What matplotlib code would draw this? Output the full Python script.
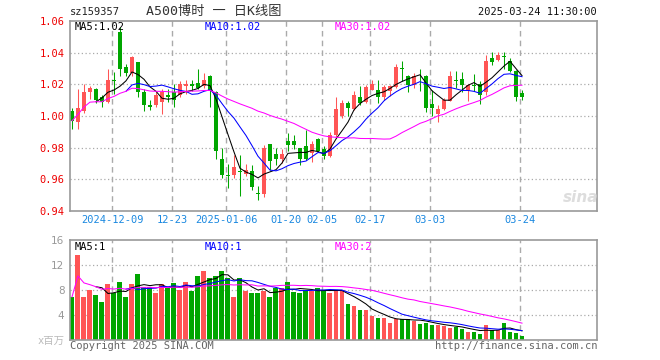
import numpy as np
import pandas as pd
import matplotlib
matplotlib.use('Agg')
import matplotlib.pyplot as plt

plt.rcParams['font.family'] = ['DejaVu Sans Mono', 'Noto Sans CJK SC']

# Daily OHLC (2024-11-28 .. 2025-03-24).
opens = [1.003, 0.996, 1.003, 1.015, 1.017, 1.012, 1.009, 1.023, 1.053, 1.031,
         1.027, 1.034, 1.015, 1.007, 1.007, 1.009, 1.013, 1.015, 1.013, 1.019,
         1.020, 1.021, 1.019, 1.025, 1.015, 0.973, 0.9625, 0.9625, 0.9655, 0.9635,
         0.9655, 0.9512, 0.9505, 0.9825, 0.9757, 0.973, 0.9845, 0.9845, 0.9795, 0.9813,
         0.9766, 0.9857, 0.9794, 0.9745, 0.9882, 0.9998, 1.0084, 1.0046, 1.0118, 1.0088,
         1.0166, 1.0166, 1.0118, 1.0156, 1.0181, 1.030, 1.025, 1.0194, 1.0255, 1.0255,
         1.0078, 1.0015, 1.0046, 1.0097, 1.0225, 1.0236, 1.016, 1.0195, 1.0202, 1.0152,
         1.0366, 1.0356, 1.0378, 1.0349, 1.0282, 1.0145]
highs = [1.005, 1.017, 1.020, 1.019, 1.018, 1.013, 1.030, 1.028, 1.056, 1.033,
         1.038, 1.034, 1.017, 1.010, 1.015, 1.017, 1.017, 1.020, 1.022, 1.023,
         1.023, 1.030, 1.027, 1.026, 1.016, 0.980, 0.9695, 0.9755, 0.9756, 0.970,
         0.969, 0.956, 0.9815, 0.9826, 0.980, 0.979, 0.9893, 0.988, 0.980, 0.9914,
         0.984, 0.9861, 0.981, 0.9897, 1.0118, 1.0103, 1.0097, 1.0156, 1.0187, 1.0198,
         1.023, 1.023, 1.0198, 1.0194, 1.0328, 1.035, 1.0257, 1.027, 1.030, 1.026,
         1.0166, 1.0067, 1.0114, 1.0286, 1.0286, 1.0278, 1.0202, 1.0265, 1.0223, 1.0383,
         1.0404, 1.0404, 1.0404, 1.0366, 1.0293, 1.0166]
lows = [0.992, 0.992, 1.002, 1.011, 1.008, 1.006, 1.008, 1.014, 1.025, 1.025,
        1.025, 1.012, 1.003, 1.004, 1.006, 1.001, 1.009, 1.006, 1.012, 1.014,
        1.016, 1.017, 1.018, 1.006, 0.973, 0.961, 0.9545, 0.961, 0.9495, 0.962,
        0.9535, 0.947, 0.9487, 0.966, 0.969, 0.9705, 0.978, 0.979, 0.969, 0.972,
        0.9707, 0.977, 0.973, 0.974, 0.987, 0.999, 1.000, 1.004, 1.0067, 1.008,
        1.0165, 1.0082, 1.0103, 1.0124, 1.0175, 1.022, 1.0152, 1.018, 1.016, 1.0025,
        1.0002, 0.9962, 1.004, 1.0095, 1.0177, 1.0152, 1.0093, 1.016, 1.0076, 1.0135,
        1.0324, 1.035, 1.030, 1.0278, 1.0093, 1.010]
closes = [0.997, 1.005, 1.015, 1.018, 1.010, 1.009, 1.023, 1.022, 1.030, 1.027,
          1.037, 1.015, 1.007, 1.006, 1.013, 1.015, 1.012, 1.010, 1.020, 1.020,
          1.019, 1.018, 1.023, 1.016, 0.978, 0.9625, 0.962, 0.968, 0.9645, 0.966,
          0.955, 0.951, 0.980, 0.9715, 0.973, 0.976, 0.9815, 0.9815, 0.973, 0.973,
          0.9823, 0.9777, 0.9745, 0.9882, 1.0046, 1.0084, 1.005, 1.0131, 1.0082, 1.0181,
          1.0202, 1.0118, 1.0181, 1.0187, 1.0307, 1.0297, 1.0198, 1.025, 1.025, 1.005,
          1.005, 1.0046, 1.0103, 1.025, 1.022, 1.0198, 1.0198, 1.019, 1.0131, 1.0349,
          1.0339, 1.0383, 1.0375, 1.0282, 1.0118, 1.0118]
# Volume in millions.
volumes = [6.9, 13.6, 6.9, 8.0, 7.2, 6.1, 9.0, 7.5, 9.3, 6.9,
           9.0, 10.6, 8.5, 8.5, 7.6, 9.0, 8.3, 9.1, 8.0, 9.3,
           7.9, 10.2, 11.0, 9.9, 10.2, 11.0, 10.0, 6.9, 10.0, 7.9,
           7.6, 7.6, 7.9, 6.9, 8.3, 8.3, 9.3, 7.7, 7.6, 7.9,
           7.9, 8.3, 7.9, 7.6, 7.9, 7.9, 5.8, 5.5, 4.8, 4.8,
           3.9, 3.5, 3.5, 2.7, 3.4, 3.4, 3.4, 3.1, 2.6, 2.7,
           2.4, 2.4, 2.25, 1.9, 2.1, 1.8, 1.35, 1.3, 1.0, 2.4,
           1.6, 1.6, 2.7, 1.3, 1.1, 0.65]

tick_idx = [7, 17, 26, 36, 42, 50, 60, 75]
tick_labels = ['2024-12-09', '12-23', '2025-01-06', '01-20', '02-05', '02-17', '03-03', '03-24']
price_ticks = [0.94, 0.96, 0.98, 1.00, 1.02, 1.04, 1.06]
vol_ticks = [4, 8, 12, 16]

up_color = '#FF5555'
down_color = '#00A600'
grid_color = '#AAAAAA'
frame_color = '#999999'

x = np.arange(len(closes))
close_s = pd.Series(closes)
vol_s = pd.Series(volumes)
colors = [up_color if c >= o else down_color for o, c in zip(opens, closes)]

fig = plt.figure(figsize=(6.6, 3.6), dpi=100)
W, H = 660, 360
ax = fig.add_axes([70 / W, 1 - 211 / H, 527 / W, 190 / H])
axv = fig.add_axes([70 / W, 1 - 340 / H, 527 / W, 100 / H])

# Candles.
ax.vlines(x, lows, highs, colors=colors, lw=0.75, zorder=2)
bodies = [max(abs(c - o), 0.0005) for o, c in zip(opens, closes)]
bottoms = [min(o, c) for o, c in zip(opens, closes)]
ax.bar(x, bodies, bottom=bottoms, width=0.8, color=colors, lw=0, zorder=2)

# Moving averages.
ax.plot(x, close_s.rolling(5).mean(), color='black', lw=0.75, zorder=3)
ax.plot(x, close_s.rolling(10).mean(), color='#0000FF', lw=0.75, zorder=3)
ax.plot(x, close_s.rolling(30, min_periods=1).mean(), color='#FF00FF', lw=0.75, zorder=3)

# Volume.
axv.bar(x, volumes, width=0.83, color=colors, lw=0, zorder=2)
axv.plot(x, vol_s.rolling(5).mean(), color='black', lw=0.75, zorder=3)
axv.plot(x, vol_s.rolling(10).mean(), color='#0000FF', lw=0.75, zorder=3)
axv.plot(x, vol_s.rolling(30, min_periods=1).mean(), color='#FF00FF', lw=0.75, zorder=3)

for a in (ax, axv):
    a.set_xlim(-0.33, 87.5)
    for s in a.spines.values():
        s.set_color(frame_color)
        s.set_linewidth(1.2)
    for t in tick_idx:
        a.axvline(t - 0.33, color=grid_color, lw=1, ls=(0, (4, 3)), zorder=1)
    a.tick_params(length=0)

ax.set_ylim(0.94, 1.06)
ax.set_yticks(price_ticks)
ax.set_yticklabels(['%.2f' % v for v in price_ticks], color='#EE0000', fontsize=7.5)
for v in price_ticks[1:-1]:
    ax.axhline(v, color=grid_color, lw=0.9, ls=(0, (1, 2)), zorder=1)
ax.set_xticks([t - 0.33 for t in tick_idx])
ax.set_xticklabels(tick_labels, color='#1A88E0', fontsize=7.5)
ax.tick_params(axis='y', pad=4)
ax.tick_params(axis='x', pad=3)

axv.set_ylim(0, 16)
axv.set_yticks(vol_ticks)
axv.set_yticklabels([str(v) for v in vol_ticks], color='#999999', fontsize=7.5,
                    family='DejaVu Sans')
axv.tick_params(axis='y', pad=4)
axv.set_xticks([])
for v in vol_ticks[:-1]:
    axv.axhline(v, color=grid_color, lw=0.9, ls=(0, (1, 2)), zorder=1)

def ftext(px, py, s, **kw):
    fig.text(px / W, 1 - py / H, s, va='center', **kw)

ftext(70, 12, 'sz159357', fontsize=7.5, color='#222222')
ftext(214, 12, 'A500博时 一 日K线图', ha='center', fontsize=9.5, color='#333333')
ftext(597, 12, '2025-03-24 11:30:00', ha='right', fontsize=7.5, color='#111111')

ftext(75, 27, 'MA5:1.02', fontsize=7.5, color='black')
ftext(205, 27, 'MA10:1.02', fontsize=7.5, color='#0000FF')
ftext(335, 27, 'MA30:1.02', fontsize=7.5, color='#FF00FF')
ftext(75, 247, 'MA5:1', fontsize=7.5, color='black')
ftext(205, 247, 'MA10:1', fontsize=7.5, color='#0000FF')
ftext(335, 247, 'MA30:2', fontsize=7.5, color='#FF00FF')

ftext(65, 341, 'x百万', ha='right', fontsize=7.5, color='#BBBBBB')
ftext(70, 346, 'Copyright 2025 SINA.COM', fontsize=7.5, color='#666666')
ftext(597, 346, 'http://finance.sina.com.cn', ha='right', fontsize=7.5, color='#666666')
ftext(581, 197, 'sina', ha='center', fontsize=11, color='#DDDDDD',
      fontweight='bold', style='italic', family='DejaVu Sans')

plt.savefig('out.png', dpi=100)
plt.close()
